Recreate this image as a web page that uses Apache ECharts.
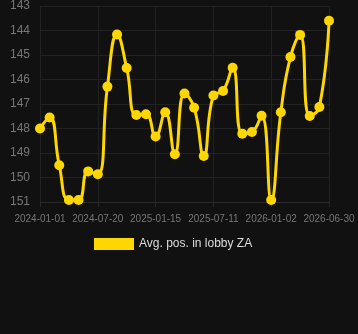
<!DOCTYPE html>
<html>
<head>
<meta charset="utf-8">
<script src="https://cdn.jsdelivr.net/npm/echarts@6/dist/echarts.min.js"></script>
<style>
  html, body { margin: 0; padding: 0; background: #111111; }
  #chart { width: 358px; height: 334px; }
</style>
</head>
<body>
<div id="chart"></div>
<script>
// 日期（类目）
var dates = [
  "2024-01-01", "2024-02-03", "2024-03-08", "2024-04-10", "2024-05-14", "2024-06-16",
  "2024-07-20", "2024-08-19", "2024-09-18", "2024-10-18", "2024-11-17", "2024-12-16",
  "2025-01-15", "2025-02-14", "2025-03-15", "2025-04-14", "2025-05-13", "2025-06-12",
  "2025-07-11", "2025-08-09", "2025-09-07", "2025-10-06", "2025-11-04", "2025-12-03",
  "2026-01-02", "2026-02-01", "2026-03-03", "2026-04-02", "2026-05-02", "2026-06-01",
  "2026-06-30"
];
// 平均排名
var avgPos = [
  148.0, 147.55, 149.5, 150.92, 150.92, 149.75,
  149.87, 146.29, 144.16, 145.53, 147.45, 147.42,
  148.33, 147.34, 149.05, 146.57, 147.15, 149.12,
  146.65, 146.47, 145.52, 148.21, 148.14, 147.48,
  150.92, 147.34, 145.08, 144.18, 147.49, 147.12,
  143.6
];
var seriesName = "Avg. pos. in lobby ZA";

(function() {
  var myChart = echarts.init(document.getElementById("chart"));

  var option = {
    backgroundColor: "#111111",
    animation: false,
    grid: {
      left: 40,
      right: 29,
      top: 6,
      bottom: 132
    },
    legend: {
      top: 233,
      left: 89,
      icon: "rect",
      itemWidth: 40,
      itemHeight: 12,
      itemGap: 6,
      textStyle: {
        color: "#dddddd",
        fontSize: 12
      },
      data: [seriesName]
    },
    xAxis: {
      type: "category",
      boundaryGap: false,
      data: dates,
      axisLine: {
        show: true,
        lineStyle: { color: "#2a2a2a" }
      },
      axisTick: {
        show: true,
        interval: 5,
        lineStyle: { color: "#2a2a2a" }
      },
      axisLabel: {
        interval: 5,
        color: "#777777",
        fontSize: 10,
        margin: 12
      },
      splitLine: {
        show: true,
        interval: 5,
        lineStyle: { color: "#222222" }
      }
    },
    yAxis: {
      type: "value",
      inverse: true,
      min: 143,
      max: 151,
      interval: 1,
      axisLine: { show: false },
      axisTick: { show: false },
      axisLabel: {
        color: "#777777",
        fontSize: 12,
        margin: 10
      },
      splitLine: {
        lineStyle: { color: "#222222" }
      }
    },
    series: [
      {
        name: seriesName,
        type: "line",
        smooth: true,
        data: avgPos,
        symbol: "circle",
        symbolSize: 10,
        showSymbol: true,
        showAllSymbol: true,
        lineStyle: { color: "#FFD700", width: 3 },
        itemStyle: { color: "#FFD700" }
      }
    ]
  };

  myChart.setOption(option);
  window.addEventListener("resize", function() {
    myChart.resize();
  });
})();
</script>
</body>
</html>
